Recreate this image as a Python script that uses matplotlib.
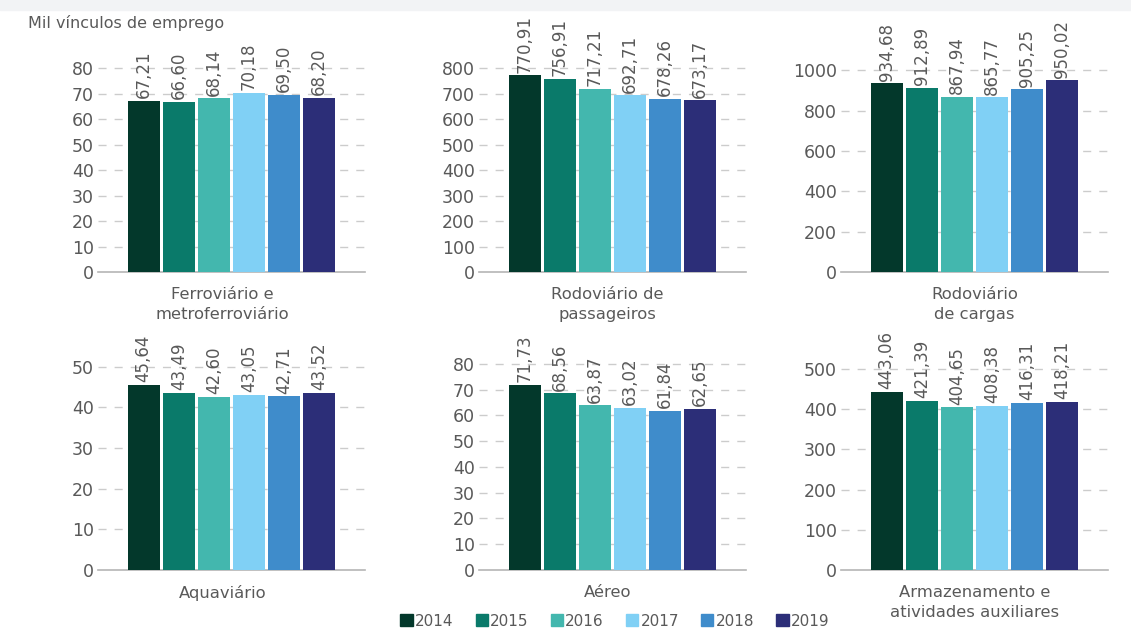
import numpy as np
import matplotlib
matplotlib.use("Agg")
import matplotlib.pyplot as plt
from matplotlib.patches import Patch, Rectangle

plt.rcParams['font.family'] = ['DejaVu Sans']

# data (mil vinculos de emprego)
years = ['2014', '2015', '2016', '2017', '2018', '2019']
colors = ['#03382b', '#0a7a6a', '#43b7ae', '#80d0f5', '#3f8ccb', '#2c2e78']

sectors = ['Ferroviário e\nmetroferroviário', 'Rodoviário de\npassageiros', 'Rodoviário\nde cargas',
           'Aquaviário', 'Aéreo', 'Armazenamento e\natividades auxiliares']

ferro = [67.21, 66.60, 68.14, 70.18, 69.50, 68.20]
rodo_pass = [770.91, 756.91, 717.21, 692.71, 678.26, 673.17]
rodo_carga = [934.68, 912.89, 867.94, 865.77, 905.25, 950.02]
aqua = [45.64, 43.49, 42.60, 43.05, 42.71, 43.52]
aereo = [71.73, 68.56, 63.87, 63.02, 61.84, 62.65]
armaz = [443.06, 421.39, 404.65, 408.38, 416.31, 418.21]

yticks = [np.arange(0, 81, 10), np.arange(0, 801, 100), np.arange(0, 1001, 200),
          np.arange(0, 51, 10), np.arange(0, 81, 10), np.arange(0, 501, 100)]
ytops = [91, 910, 1150, 56.6, 89.3, 572]

series = [ferro, rodo_pass, rodo_carga, aqua, aereo, armaz]

W, H = 1131, 640
fig = plt.figure(figsize=(W / 100, H / 100), dpi=100)
fig.patches.append(Rectangle((0, 1 - 10 / H), 1, 10 / H, transform=fig.transFigure,
                             color='#f2f3f5', zorder=0))

lefts = [98, 479, 841]
lab_shift = [-0.25, -0.15, 0.0]  # category label nudge, in bar units
rows = [(272, 40), (570, 340)]  # (bottom px, top px)
txt = '#595959'

for k, vals in enumerate(series):
    r, c = divmod(k, 3)
    bot, top = rows[r]
    ax = fig.add_axes([lefts[c] / W, 1 - bot / H, 267 / W, (bot - top) / H])
    x = np.arange(len(vals))
    ax.bar(x, vals, width=0.92, color=colors, zorder=3)
    for xi, v in zip(x, vals):
        ax.annotate(f"{v:.2f}".replace('.', ','), (xi, v), xytext=(0, 2),
                    textcoords='offset points', rotation=90, ha='center', va='bottom',
                    fontsize=12, color=txt, annotation_clip=False)
    ax.set_xlim(-1.3, 6.3)
    ax.set_ylim(0, ytops[k])
    ax.set_yticks(yticks[k])
    ax.tick_params(axis='y', length=0, pad=3, labelsize=12.5, labelcolor=txt)
    ax.set_xticks([])
    for s in ['top', 'right', 'left']:
        ax.spines[s].set_visible(False)
    ax.spines['bottom'].set_color('#b5b5b5')
    ax.spines['bottom'].set_linewidth(1.2)
    for t in yticks[k][1:]:
        ax.axhline(t, color='#cccccc', lw=1, ls=(0, (5.8, 5.8)), zorder=1)
    ax.set_facecolor('none')
    ax.text(2.5 + lab_shift[c], -0.065, sectors[k], transform=ax.get_xaxis_transform(),
            ha='center', va='top', fontsize=11.8, color=txt, linespacing=1.45)

fig.text(28 / W, 1 - 23 / H, 'Mil vínculos de emprego', fontsize=11.5, color=txt, va='center')

handles = [Patch(color=col, label=y) for col, y in zip(colors, years)]
fig.legend(handles=handles, loc='center', bbox_to_anchor=(615 / W, 1 - 621 / H), ncol=6,
           frameon=False, fontsize=11, handlelength=0.8, handleheight=0.8,
           handletextpad=0.15, columnspacing=1.45, labelcolor=txt)

fig.savefig('out.png', dpi=100, facecolor='white')
